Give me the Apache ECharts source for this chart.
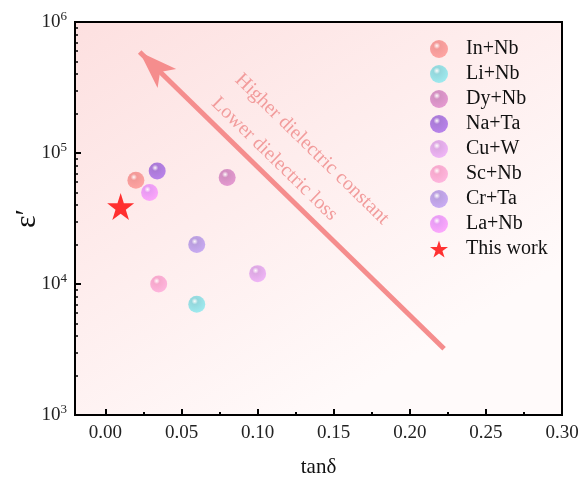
<!DOCTYPE html>
<html>
<head>
<meta charset="utf-8">
<script src="https://cdn.jsdelivr.net/npm/echarts@6/dist/echarts.min.js"></script>
<style>
  html, body { margin: 0; padding: 0; background: #fff; }
  #chart { width: 580px; height: 483px; }
</style>
</head>
<body>
<div id="chart"></div>
<script>
// samples: name, tanδ, ε′
const names = ['In+Nb', 'Li+Nb', 'Dy+Nb', 'Na+Ta', 'Cu+W', 'Sc+Nb', 'Cr+Ta', 'La+Nb']
const tanD = [0.020, 0.060, 0.080, 0.034, 0.100, 0.035, 0.060, 0.029]
const eps = [62000, 7000, 65000, 73000, 12000, 10000, 20000, 50000]
const colors = ['#f08583', '#7ad2d8', '#c878b6', '#965ed2', '#d596e0', '#f597c4', '#a98bdb', '#e387f5']

const thisWork = [0.010, 39000]

// arrow from tail to head, in data units
const arrowTail = [0.2225, 3200]
const arrowHead = [0.0225, 590000]
const noteHigh = [0.1357, 107000]
const noteLow = [0.111, 90000]

const xTicks = [0, 0.05, 0.10, 0.15, 0.20, 0.25, 0.30]
const xMinor = [0.025, 0.075, 0.125, 0.175, 0.225, 0.275]
const yTicks = [1e3, 1e4, 1e5, 1e6]
const yMinor = []
;[1e3, 1e4, 1e5].forEach(d => { for (let k = 2; k <= 9; k++) yMinor.push(k * d) })

const serif = 'Liberation Serif'
const starPath = 'path://M50,0 L61.2,34.5 L97.6,34.5 L68.2,55.9 L79.4,90.5 L50,69.1 L20.6,90.5 L31.8,55.9 L2.4,34.5 L38.8,34.5 Z'

function ball(c) {
  return new echarts.graphic.RadialGradient(0.38, 0.32, 0.75, [
    { offset: 0, color: '#ffffff' },
    { offset: 0.25, color: c },
    { offset: 1, color: echarts.color.lift(c, -0.12) },
  ])
}

const chart = echarts.init(document.getElementById('chart'))

const series = names.map((n, i) => ({
  name: n,
  type: 'scatter',
  symbol: 'circle',
  symbolSize: 17,
  itemStyle: { color: ball(colors[i]) },
  data: [[tanD[i], eps[i]]],
  z: 3,
}))
series.push({
  name: 'This work',
  type: 'scatter',
  symbol: starPath,
  symbolSize: 27,
  itemStyle: { color: '#ff0000' },
  data: [thisWork],
  z: 4,
})
series.push({
  name: 'arrow',
  type: 'scatter',
  data: [],
  markLine: {
    silent: true,
    symbol: ['none', 'arrow'],
    symbolSize: [20, 38],
    label: { show: false },
    lineStyle: { color: '#f58d8d', width: 5, type: 'solid' },
    data: [[{ coord: arrowTail }, { coord: arrowHead }]],
  },
  z: 2,
})

const legendData = names.map(n => ({ name: n, icon: 'circle' }))
legendData.push({ name: 'This work', icon: starPath })

chart.setOption({
  animation: false,
  grid: {
    left: 75, right: 18, top: 22, bottom: 68,
    outerBoundsMode: 'none',
    show: true,
    borderColor: '#000',
    borderWidth: 2,
    backgroundColor: new echarts.graphic.LinearGradient(0, 0, 0.5, 1, [
      { offset: 0, color: '#fde0e0' },
      { offset: 1, color: '#fffafa' },
    ]),
  },
  legend: {
    orient: 'vertical',
    left: 425,
    top: 34,
    itemWidth: 18,
    itemHeight: 18,
    itemGap: 5,
    textStyle: { fontFamily: serif, fontSize: 20, color: '#111', padding: [0, 0, 0, 13] },
    data: legendData,
  },
  xAxis: [{
    type: 'value',
    position: 'bottom',
    min: -0.02, max: 0.30,
    name: 'tanδ',
    nameLocation: 'middle',
    nameGap: 42,
    nameTextStyle: { fontFamily: serif, fontSize: 21, color: '#111' },
    axisLine: { show: true, onZero: false, lineStyle: { color: '#000', width: 2 } },
    axisTick: { show: true, inside: true, length: 6, customValues: xTicks, lineStyle: { color: '#000', width: 2 } },
    axisLabel: { customValues: xTicks, margin: 9, fontFamily: serif, fontSize: 19, color: '#222',
      formatter: v => v.toFixed(2) },
    splitLine: { show: false },
  }, {
    type: 'value',
    position: 'bottom',
    min: -0.02, max: 0.30,
    axisLine: { show: false, onZero: false },
    axisTick: { show: true, inside: true, length: 3, customValues: xMinor, lineStyle: { color: '#000', width: 2 } },
    axisLabel: { show: false },
    splitLine: { show: false },
  }],
  yAxis: [{
    type: 'log',
    position: 'left',
    logBase: 10,
    min: 1e3, max: 1e6,
    name: 'ε′',
    nameLocation: 'middle',
    nameRotate: 90,
    nameGap: 33,
    nameMoveOverlap: false,
    nameTextStyle: { fontFamily: serif, fontSize: 30, color: '#111' },
    axisLine: { show: true, onZero: false, lineStyle: { color: '#000', width: 2 } },
    axisTick: { show: true, inside: true, length: 6, customValues: yTicks, lineStyle: { color: '#000', width: 2 } },
    axisLabel: {
      customValues: yTicks,
      margin: 8,
      fontFamily: serif, fontSize: 19, color: '#222',
      formatter: v => '10{s|' + Math.round(Math.log10(v)) + '}',
      rich: { s: { fontFamily: serif, fontSize: 13, color: '#222', verticalAlign: 'bottom', padding: [0, 0, 10, 0] } },
    },
    splitLine: { show: false },
  }, {
    type: 'log',
    position: 'left',
    logBase: 10,
    min: 1e3, max: 1e6,
    axisLine: { show: false, onZero: false },
    axisTick: { show: true, inside: true, length: 3, customValues: yMinor, lineStyle: { color: '#000', width: 1.5 } },
    axisLabel: { show: false },
    splitLine: { show: false },
  }],
  series: series,
})

// rotated notes along the arrow, anchored in data coords
const toPx = p => chart.convertToPixel({ xAxisIndex: 0, yAxisIndex: 0 }, p)
const t0 = toPx(arrowTail), h0 = toPx(arrowHead)
const ang = Math.atan2(t0[1] - h0[1], t0[0] - h0[0])
const notes = [[noteHigh, 'Higher dielectric constant'], [noteLow, 'Lower dielectric loss']]

chart.setOption({
  graphic: notes.map(([p, t]) => {
    const px = toPx(p)
    return {
      type: 'text',
      x: px[0], y: px[1],
      rotation: -ang,
      silent: true,
      z: 5,
      style: { text: t, fill: '#f29c9c', font: '20px "Liberation Serif"', align: 'center', verticalAlign: 'middle' },
    }
  }),
})
</script>
</body>
</html>
